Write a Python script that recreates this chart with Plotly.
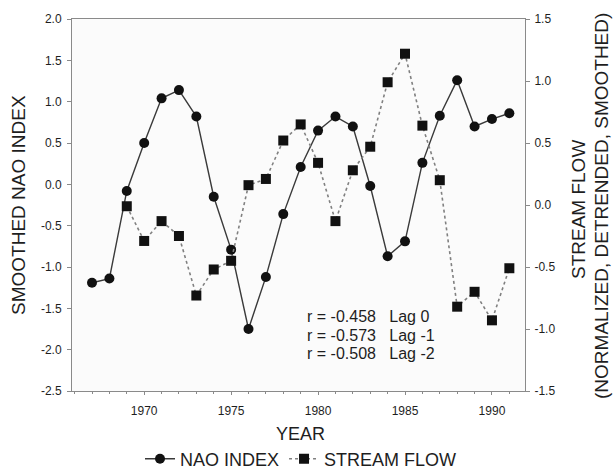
import plotly.graph_objects as go

# Smoothed NAO index (left axis)
nao_years = list(range(1967, 1992))
nao_values = [-1.19, -1.14, -0.08, 0.50, 1.04, 1.14, 0.82, -0.15, -0.79, -1.75,
              -1.12, -0.36, 0.21, 0.65, 0.82, 0.70, -0.02, -0.87, -0.69, 0.26,
              0.83, 1.26, 0.70, 0.79, 0.86]

# Normalized, detrended, smoothed stream flow (right axis)
flow_years = list(range(1969, 1992))
flow_values = [-0.01, -0.29, -0.13, -0.25, -0.73, -0.52, -0.45, 0.16, 0.21, 0.52,
               0.65, 0.34, -0.13, 0.28, 0.47, 0.99, 1.22, 0.64, 0.20, -0.82,
               -0.70, -0.93, -0.51]

left_ticks = [2.0, 1.5, 1.0, 0.5, 0.0, -0.5, -1.0, -1.5, -2.0, -2.5]
right_ticks = [1.5, 1.0, 0.5, 0.0, -0.5, -1.0, -1.5]
year_ticks = [1970, 1975, 1980, 1985, 1990]

stats_text = ["r = -0.458   Lag 0", "r = -0.573   Lag -1", "r = -0.508   Lag -2"]

FONT = "Liberation Sans, Arial, sans-serif"
TEXT = "#1e1e1e"
AXIS_COLOR = "#8a8a8a"

# plot area in pixels: left 72, right 525, top 19, bottom 391
PLOT_H = 372.0

fig = go.Figure()

fig.add_trace(go.Scatter(
    x=nao_years, y=nao_values, name="NAO INDEX",
    mode="lines+markers",
    line=dict(color="#3a3a3a", width=1.4),
    marker=dict(symbol="circle", size=10, color="#111111"),
    yaxis="y",
))

fig.add_trace(go.Scatter(
    x=flow_years, y=flow_values, name="STREAM FLOW",
    mode="lines+markers",
    line=dict(color="#808080", width=1.6, dash="dot"),
    marker=dict(symbol="square", size=10, color="#111111"),
    yaxis="y2",
))

# correlation statistics, one annotation per line
for i, line in enumerate(stats_text):
    y_px = 316.5 + i * 18.5
    fig.add_annotation(
        x=0.514, y=(391 - y_px) / PLOT_H, xref="paper", yref="paper",
        text=line, showarrow=False, xanchor="left", yanchor="middle",
        font=dict(family=FONT, size=16, color=TEXT),
    )

# axis titles
fig.add_annotation(
    x=(18 - 72) / 453, y=0.5, xref="paper", yref="paper",
    xanchor="center", yanchor="middle",
    text="SMOOTHED NAO INDEX", textangle=-90, showarrow=False,
    font=dict(family=FONT, size=19, color=TEXT),
)
fig.add_annotation(
    x=(578 - 72) / 453, y=(391 - 210) / PLOT_H, xref="paper", yref="paper",
    xanchor="center", yanchor="middle",
    text="STREAM FLOW", textangle=-90, showarrow=False,
    font=dict(family=FONT, size=19, color=TEXT),
)
fig.add_annotation(
    x=(601 - 72) / 453, y=(391 - 206) / PLOT_H, xref="paper", yref="paper",
    xanchor="center", yanchor="middle",
    text="(NORMALIZED, DETRENDED, SMOOTHED)", textangle=-90, showarrow=False,
    font=dict(family=FONT, size=19, color=TEXT),
)
fig.add_annotation(
    x=(300 - 72) / 453, y=(391 - 434) / PLOT_H, xref="paper", yref="paper",
    xanchor="center", yanchor="middle",
    text="YEAR", showarrow=False,
    font=dict(family=FONT, size=18, color=TEXT),
)

fig.update_layout(
    width=616, height=469,
    margin=dict(l=72, r=91, t=19, b=78, autoexpand=False),
    paper_bgcolor="white",
    plot_bgcolor="#fbfbfb",
    font=dict(family=FONT, color=TEXT),
    showlegend=True,
    legend=dict(
        orientation="h", x=(301 - 72) / 453, y=(391 - 459) / PLOT_H,
        xanchor="center", yanchor="middle",
        font=dict(family=FONT, size=18, color=TEXT),
        itemwidth=30, bgcolor="rgba(0,0,0,0)",
    ),
    xaxis=dict(
        range=[1965.85, 1991.9], automargin=False,
        tickvals=year_ticks, ticktext=[str(v) for v in year_ticks],
        showgrid=False, zeroline=False,
        showline=True, linecolor=AXIS_COLOR, linewidth=1, mirror=True,
        ticks="outside", ticklen=3, tickcolor=AXIS_COLOR,
        minor=dict(dtick=1, ticks="outside", ticklen=2, tickcolor=AXIS_COLOR),
        ticklabelstandoff=6,
        tickfont=dict(family=FONT, size=12, color=TEXT),
    ),
    yaxis=dict(
        range=[-2.5, 2.0], automargin=False,
        tickvals=left_ticks, ticktext=[f"{v:.1f}" for v in left_ticks],
        showgrid=False, zeroline=False,
        showline=True, linecolor=AXIS_COLOR, linewidth=1,
        ticks="outside", ticklen=4, tickcolor=AXIS_COLOR,
        ticklabelstandoff=3,
        tickfont=dict(family=FONT, size=12, color=TEXT),
    ),
    yaxis2=dict(
        range=[-1.5, 1.5], overlaying="y", side="right", automargin=False,
        tickvals=right_ticks, ticktext=[f"{v:.1f}" for v in right_ticks],
        showgrid=False, zeroline=False,
        showline=True, linecolor=AXIS_COLOR, linewidth=1,
        ticks="outside", ticklen=4, tickcolor=AXIS_COLOR,
        ticklabelstandoff=2,
        tickfont=dict(family=FONT, size=12, color=TEXT),
    ),
)

fig.write_html("out.html")
